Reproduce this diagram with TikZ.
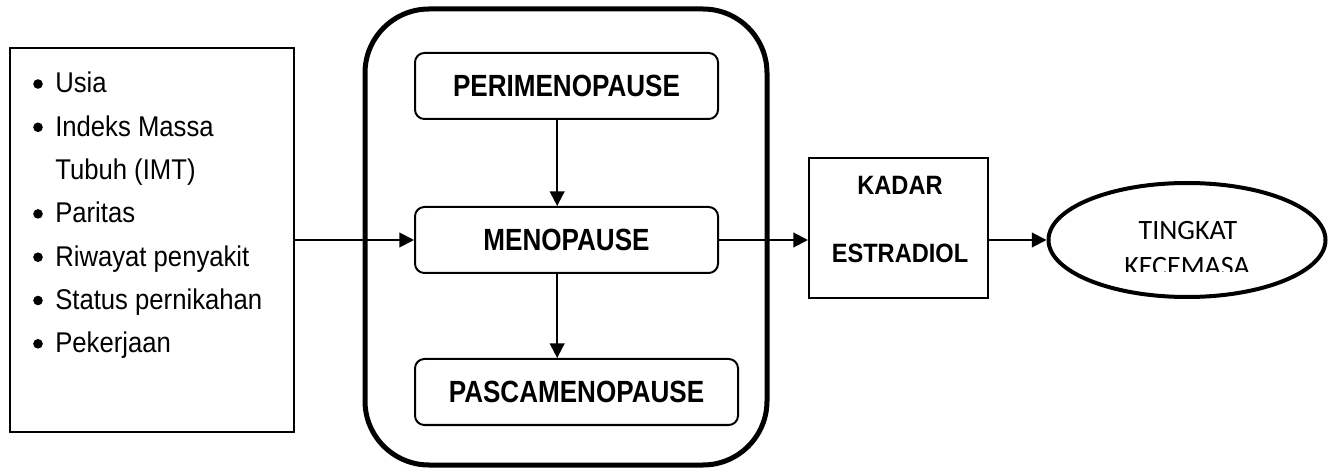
\documentclass[tikz,border=0pt]{standalone}
\usepackage{fontspec}
\setmainfont{Liberation Sans}
\newfontfamily\listfont[FakeStretch=0.9]{Liberation Sans}
\newfontfamily\stagefont[FakeStretch=0.85]{Liberation Sans Bold}
\newfontfamily\kadarfont[FakeStretch=0.89]{Liberation Sans Bold}
\newfontfamily\ovalfont{Carlito}
\usepackage{tikz}
\usetikzlibrary{arrows.meta}
\usetikzlibrary{shapes.geometric}
\def\StageW{227.25pt}
\def\StageH{49.5pt}

\tikzset{
	stage/.style={draw,rounded corners=7pt,line width=1.5pt,minimum width=\StageW,minimum height=\StageH,inner sep=0pt,font=\stagefont\fontsize{23}{27}\selectfont},
	item/.style={anchor=base west,inner sep=0pt,font=\listfont\fontsize{21.4}{26}\selectfont},
	kadartext/.style={anchor=base,inner sep=0pt,font=\kadarfont\fontsize{19.9}{24}\selectfont},
	ovaltext/.style={anchor=base,inner sep=0pt,font=\ovalfont\fontsize{21}{27}\selectfont},
	arr/.style={line width=1.5pt,-{Triangle[length=11pt,width=11pt]}},
}

\begin{document}
\begin{tikzpicture}[x=0.75pt,y=-0.75pt]
	\useasboundingbox (0,0) rectangle (1336,470);
	% 
	\node[draw,line width=2pt,minimum width=213pt,minimum height=288pt,inner sep=0pt] (inputs) at (152,240) {};
	\foreach \t/\b [count=\i] in {Usia/1,Indeks Massa/1,Tubuh (IMT)/0,Paritas/1,Riwayat penyakit/1,Status pernikahan/1,Pekerjaan/1}{
		\node[item] (item\i) at (55,{93+43.3*(\i-1)}) {\t};
		\ifnum\b=1 \fill (38,{84+43.3*(\i-1)}) circle (3.6pt); \fi
	}
	% 
	\node[draw,line width=3.75pt,rounded corners=48pt,minimum width=301.5pt,minimum height=342pt] (phase) at (566,237) {};
	\node[stage] (peri) at (566.5,86) {PERIMENOPAUSE};
	\node[stage] (meno) at (566.5,240) {MENOPAUSE};
	\node[stage,minimum width=242.25pt] (pasca) at (576.5,392) {PASCAMENOPAUSE};
	% 
	\node[draw,line width=1.5pt,minimum width=134.25pt,minimum height=105pt] (kadar) at (898.5,228) {};
	\node[kadartext] (kadar1) at (900,195) {KADAR};
	\node[kadartext] (kadar2) at (900,263) {ESTRADIOL};
	% 
	\node[ellipse,draw,line width=3pt,minimum width=207.75pt,minimum height=85.5pt,inner sep=0pt] (tingkat) at (1187,240) {};
	\begin{scope}
		\clip (1050,190) rectangle (1325,272);
		\node[ovaltext] (tingkat1) at (1188,240) {TINGKAT};
		\node[ovaltext] (tingkat2) at (1187,276) {KECEMASA};
	\end{scope}
	% 
	\draw[arr] (inputs.east) -- (meno.west);
	\draw[arr] ([xshift=-7pt]peri.south) -- ([xshift=-7pt]meno.north);
	\draw[arr] ([xshift=-7pt]meno.south) -- ([xshift=-7pt]meno.south |- pasca.north);
	\draw[arr] (meno.east) -- (meno.east -| kadar.west);
	\draw[arr] (kadar.east |- tingkat.west) -- (tingkat.west);
\end{tikzpicture}
\end{document}
